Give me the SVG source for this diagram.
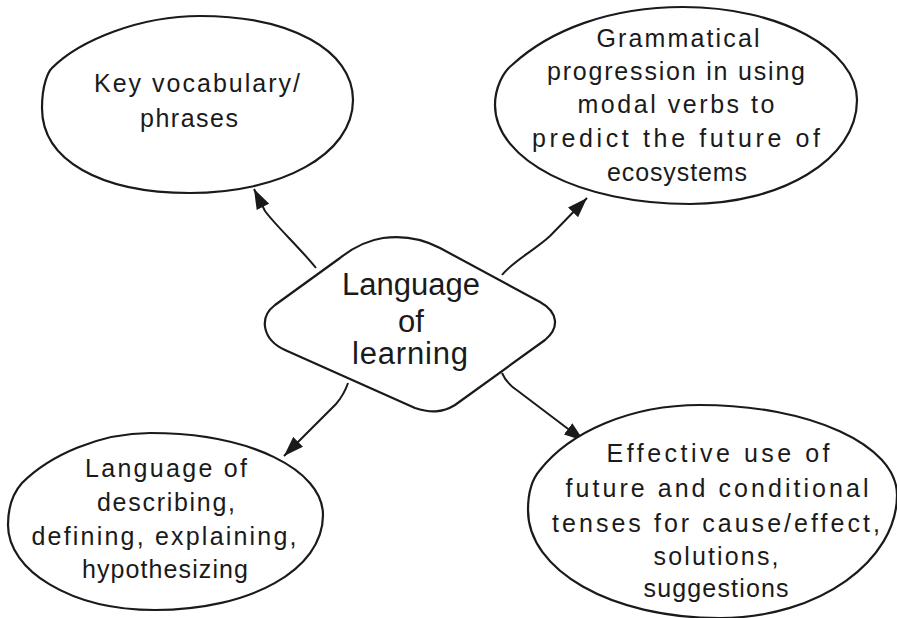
<svg xmlns="http://www.w3.org/2000/svg" width="897" height="618" viewBox="0 0 897 618">
<style>
.shape{fill:#fff;stroke:#1a1a1a;stroke-width:2.2;stroke-linejoin:round}
.conn{fill:none;stroke:#1a1a1a;stroke-width:2}
text{font-family:"Liberation Sans","DejaVu Sans",sans-serif;font-size:25px;fill:#1a1a1a;text-anchor:middle}
.big{font-size:31px}
</style>
<defs>
<marker id="arr" markerUnits="userSpaceOnUse" markerWidth="22" markerHeight="14" refX="20" refY="7" orient="auto">
<path d="M0,0 L20,7 L0,14 Z" fill="#1a1a1a"/>
</marker>
</defs>
<rect width="897" height="618" fill="#fff"/>
<g id="connectors">
<path class="conn" d="M316,268 C300,248 276,226 265,211 L254,189" marker-end="url(#arr)"/>
<path class="conn" d="M502,275 C512,262 535,250 550,236 L587,198" marker-end="url(#arr)"/>
<path class="conn" d="M348,383 C345,392 342,397 336,404 L284,456" marker-end="url(#arr)"/>
<path class="conn" d="M502,373 C505,380 510,386 518,391 L584,441" marker-end="url(#arr)"/>
</g>
<g id="node-center">
<path class="shape" d="M383,238 C405,235 425,240 440,248 L540,302 C558,312 560,328 545,340 L455,405 C442,413 430,413 415,408 L285,350 C263,340 258,318 275,305 L340,258 C355,246 370,240 383,238 Z"/>
<text class="big" x="411" y="295" textLength="138" lengthAdjust="spacing">Language</text>
<text class="big" x="411" y="332">of</text>
<text class="big" x="410" y="364" textLength="116" lengthAdjust="spacing">learning</text>
</g>
<g id="node-vocab">
<path class="shape" d="M200,16 C290,16 353,50 353,100 C353,155 280,193 190,193 C100,193 42,160 42,108 C42,85 48,72 52,68 C80,40 140,16 200,16 Z"/>
<text x="197" y="92" textLength="206" lengthAdjust="spacing">Key vocabulary/</text>
<text x="189" y="127" textLength="98" lengthAdjust="spacing">phrases</text>
</g>
<g id="node-grammar">
<path class="shape" d="M683,7 C780,7 857,50 857,100 C857,160 780,204 690,204 C580,204 495,160 495,105 C495,88 503,72 512,65 C550,30 610,7 683,7 Z"/>
<text x="678" y="47" textLength="163" lengthAdjust="spacing">Grammatical</text>
<text x="676" y="80" textLength="258" lengthAdjust="spacing">progression in using</text>
<text x="676" y="113" textLength="197" lengthAdjust="spacing">modal verbs to</text>
<text x="676" y="147" textLength="288" lengthAdjust="spacing">predict the future of</text>
<text x="677" y="181" textLength="140" lengthAdjust="spacing">ecosystems</text>
</g>
<g id="node-describing">
<path class="shape" d="M150,433 C250,433 323,470 323,515 C323,570 250,610 155,610 C70,610 8,570 8,525 C8,505 14,492 22,483 C50,455 100,433 150,433 Z"/>
<text x="166" y="477" textLength="162" lengthAdjust="spacing">Language of</text>
<text x="166" y="511" textLength="138" lengthAdjust="spacing">describing,</text>
<text x="164" y="545" textLength="265" lengthAdjust="spacing">defining, explaining,</text>
<text x="165" y="578" textLength="166" lengthAdjust="spacing">hypothesizing</text>
</g>
<g id="node-effective">
<path class="shape" d="M700,405 C810,405 897,445 897,495 C897,560 820,618 720,618 C610,618 528,570 528,510 C528,492 533,478 540,470 C570,432 630,405 700,405 Z"/>
<text x="718" y="462" textLength="223" lengthAdjust="spacing">Effective use of</text>
<text x="717" y="497" textLength="303" lengthAdjust="spacing">future and conditional</text>
<text x="716" y="532" textLength="328" lengthAdjust="spacing">tenses for cause/effect,</text>
<text x="716" y="565" textLength="125" lengthAdjust="spacing">solutions,</text>
<text x="716" y="597" textLength="145" lengthAdjust="spacing">suggestions</text>
</g>
</svg>
